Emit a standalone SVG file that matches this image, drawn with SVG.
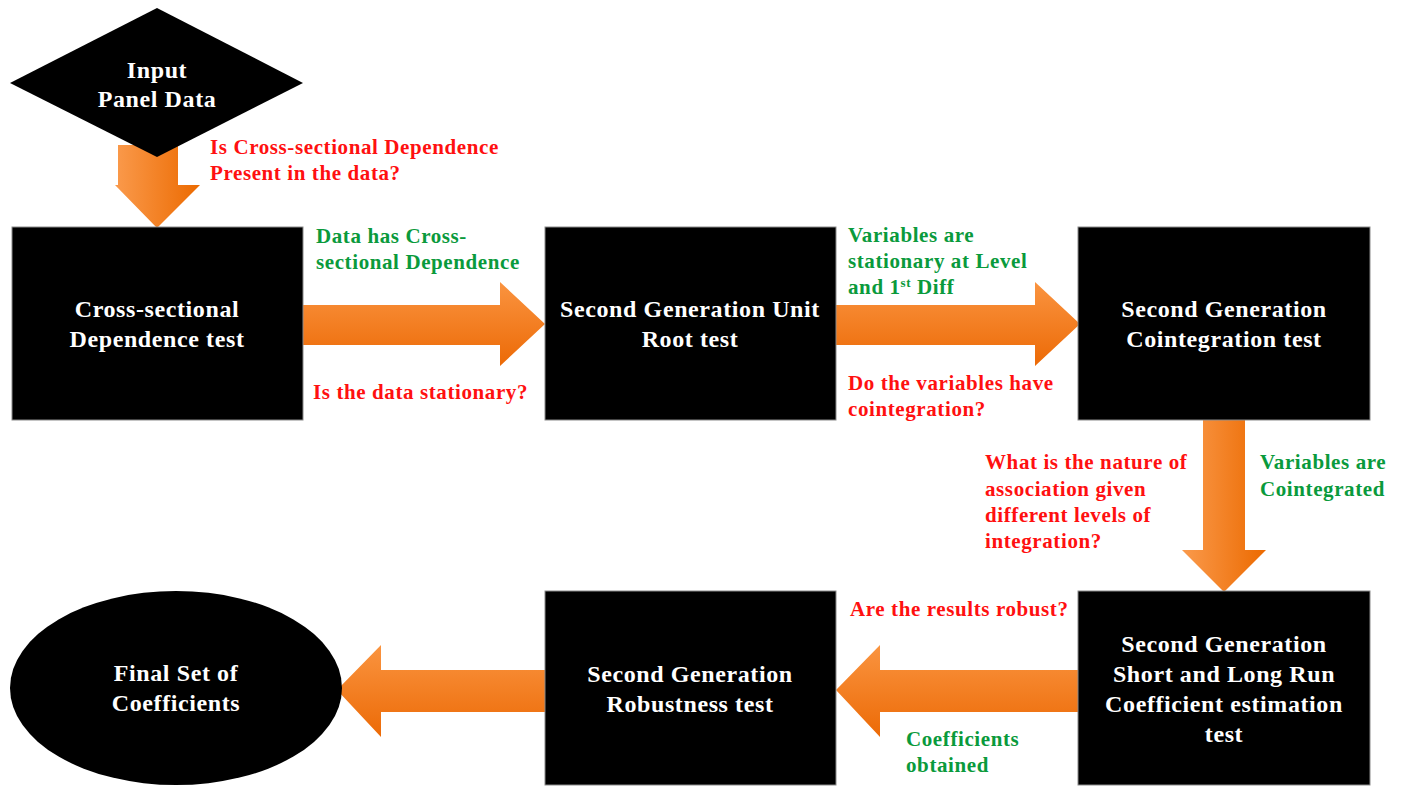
<svg xmlns="http://www.w3.org/2000/svg" width="1405" height="786" viewBox="0 0 1405 786">
<defs>
<linearGradient id="gv" x1="0" y1="0" x2="0" y2="1"><stop offset="0" stop-color="#fa9440"/><stop offset="1" stop-color="#ec6a06"/></linearGradient>
<linearGradient id="gh" x1="0" y1="0" x2="1" y2="0"><stop offset="0" stop-color="#fa9a4c"/><stop offset="1" stop-color="#ec6a00"/></linearGradient>
</defs>
<style>
.box{fill:#000;stroke:#8a8a8a;stroke-width:1}
.nt{font-family:"Liberation Serif",serif;font-weight:bold;font-size:24px;letter-spacing:0.6px;fill:#fff;text-anchor:middle}
.lb{font-family:"Liberation Serif",serif;font-weight:bold;font-size:21px;letter-spacing:0.6px}
.r{fill:#ff1010}
.g{fill:#0a9a3c}
</style>
<g id="connectors">
<path d="M118,145 H178 V185 H200 L157,228 L115,185 H118 Z" fill="url(#gh)"/>
<path d="M303,305 H500 V282 L545,324 L500,366 V345 H303 Z" fill="url(#gv)"/>
<path d="M836,305 H1035 V282 L1080,324 L1035,366 V345 H836 Z" fill="url(#gv)"/>
<path d="M1203,420 H1245 V550 H1266 L1224,592 L1182,550 H1203 Z" fill="url(#gh)"/>
<path d="M1080,670 H880 V645 L836,690 L880,737 V712 H1080 Z" fill="url(#gv)"/>
<path d="M545,670 H381 V645 L337,690 L381,737 V712 H545 Z" fill="url(#gv)"/>
</g>
<g id="input">
<polygon points="157,8 303,83 157,157 10,83" fill="#000"/>
<text class="nt" x="157" y="78">Input</text>
<text class="nt" x="157" y="107">Panel Data</text>
</g>
<g id="csd">
<rect class="box" x="12" y="227" width="291" height="193"/>
<text class="nt" x="157" y="317">Cross-sectional</text>
<text class="nt" x="157" y="347">Dependence test</text>
</g>
<g id="unitroot">
<rect class="box" x="545" y="227" width="291" height="193"/>
<text class="nt" x="690" y="317">Second Generation Unit</text>
<text class="nt" x="690" y="347">Root test</text>
</g>
<g id="coint">
<rect class="box" x="1078" y="227" width="292" height="193"/>
<text class="nt" x="1224" y="317">Second Generation</text>
<text class="nt" x="1224" y="347">Cointegration test</text>
</g>
<g id="coef">
<rect class="box" x="1078" y="591" width="292" height="194"/>
<text class="nt" x="1224" y="652">Second Generation</text>
<text class="nt" x="1224" y="682">Short and Long Run</text>
<text class="nt" x="1224" y="712">Coefficient estimation</text>
<text class="nt" x="1224" y="742">test</text>
</g>
<g id="robust">
<rect class="box" x="545" y="591" width="291" height="194"/>
<text class="nt" x="690" y="682">Second Generation</text>
<text class="nt" x="690" y="712">Robustness test</text>
</g>
<g id="final">
<ellipse cx="176" cy="688" rx="166" ry="97" fill="#000"/>
<text class="nt" x="176" y="681">Final Set of</text>
<text class="nt" x="176" y="711">Coefficients</text>
</g>
<g id="labels">
<text class="lb r" x="210" y="154">Is Cross-sectional Dependence</text>
<text class="lb r" x="210" y="180">Present in the data?</text>
<text class="lb g" x="316" y="243">Data has Cross-</text>
<text class="lb g" x="316" y="269">sectional Dependence</text>
<text class="lb r" x="313" y="399">Is the data stationary?</text>
<text class="lb g" x="848" y="242">Variables are</text>
<text class="lb g" x="848" y="268">stationary at Level</text>
<text class="lb g" x="848" y="294">and 1<tspan font-size="13" dy="-7">st</tspan><tspan dy="7"> Diff</tspan></text>
<text class="lb r" x="848" y="390">Do the variables have</text>
<text class="lb r" x="848" y="416">cointegration?</text>
<text class="lb r" x="985" y="469">What is the nature of</text>
<text class="lb r" x="985" y="496">association given</text>
<text class="lb r" x="985" y="522">different levels of</text>
<text class="lb r" x="985" y="548">integration?</text>
<text class="lb g" x="1260" y="469">Variables are</text>
<text class="lb g" x="1260" y="496">Cointegrated</text>
<text class="lb r" x="850" y="616">Are the results robust?</text>
<text class="lb g" x="906" y="746">Coefficients</text>
<text class="lb g" x="906" y="772">obtained</text>
</g>
</svg>
